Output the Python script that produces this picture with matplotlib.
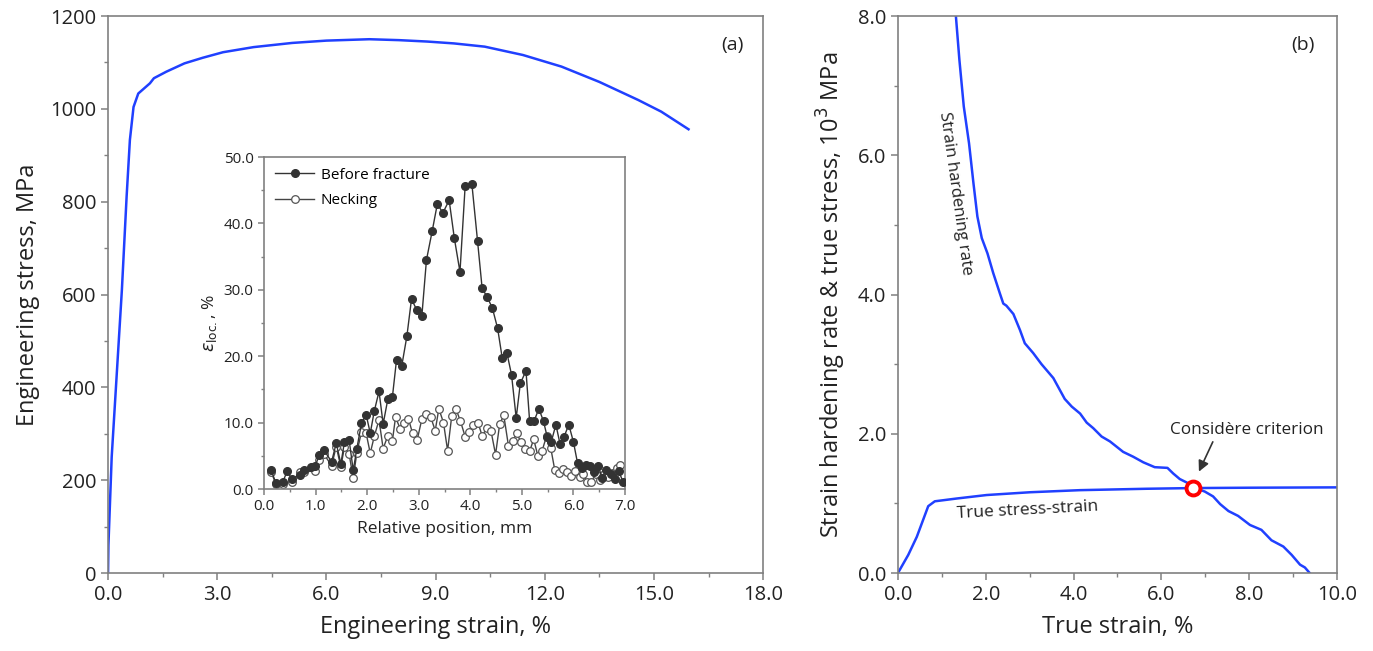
import numpy as np
import matplotlib.pyplot as plt
from matplotlib.ticker import MultipleLocator, FormatStrFormatter

plt.rcParams['font.family'] = ['Open Sans', 'DejaVu Sans']
plt.rcParams['mathtext.fontset'] = 'dejavusans'

# --- (a) engineering stress-strain ---
eng_strain = [0, 0.01, 0.1, 0.24, 0.38, 0.51, 0.6, 0.7, 0.83, 1.15, 1.26, 1.6, 2.1, 2.6,
              3.16, 4.0, 5.06, 6.0, 7.18, 8.0, 8.77, 9.5, 10.35, 11.4, 12.46, 13.5,
              14.57, 15.2, 15.95]
eng_stress = [0, 60, 250, 430, 610, 811, 933, 1004, 1033, 1055, 1066, 1080, 1098, 1110,
              1122, 1133, 1142, 1147, 1150, 1148, 1145, 1141, 1134, 1116, 1091, 1058,
              1019, 994, 956]

# --- inset: local strain distribution ---
bf_pos = [0.14, 0.23, 0.36, 0.45, 0.54, 0.69, 0.77, 0.92, 0.99, 1.07, 1.16, 1.31, 1.40,
          1.49, 1.56, 1.65, 1.73, 1.80, 1.89, 1.98, 2.06, 2.14, 2.23, 2.31, 2.40, 2.49,
          2.57, 2.67, 2.77, 2.86, 2.96, 3.06, 3.15, 3.26, 3.36, 3.47, 3.59, 3.69, 3.80,
          3.90, 4.03, 4.14, 4.23, 4.33, 4.43, 4.53, 4.62, 4.71, 4.80, 4.89, 4.97, 5.08,
          5.15, 5.24, 5.33, 5.42, 5.49, 5.57, 5.66, 5.74, 5.82, 5.91, 6.00, 6.08, 6.17,
          6.24, 6.32, 6.40, 6.48, 6.56, 6.64, 6.72, 6.80, 6.88, 6.96]
bf_val = [2.8, 0.9, 1.0, 2.7, 1.5, 2.1, 2.8, 3.3, 3.4, 5.1, 5.9, 4.1, 6.9,
          3.8, 7.1, 7.4, 2.8, 6.1, 9.9, 11.2, 8.4, 11.8, 14.7, 9.8, 13.5, 13.9,
          19.5, 18.5, 23.0, 28.6, 27.0, 26.0, 34.5, 38.8, 42.9, 41.6, 43.5, 37.8, 32.7,
          45.6, 46.0, 37.4, 30.2, 28.9, 27.2, 24.2, 19.7, 20.5, 17.2, 10.7, 15.9, 17.8,
          10.3, 10.3, 12.1, 10.2, 7.9, 7.1, 9.7, 6.8, 7.9, 9.7, 7.1, 3.9, 3.1,
          3.6, 3.4, 2.5, 3.4, 1.7, 2.9, 2.3, 1.5, 2.7, 1.1]
nk_pos = [0.14, 0.23, 0.36, 0.54, 0.69, 0.77, 0.99, 1.07, 1.16, 1.31, 1.40, 1.49, 1.56,
          1.65, 1.73, 1.80, 1.89, 1.98, 2.06, 2.14, 2.23, 2.31, 2.40, 2.49, 2.55, 2.64,
          2.71, 2.80, 2.88, 2.97, 3.06, 3.14, 3.23, 3.32, 3.39, 3.48, 3.56, 3.64, 3.72,
          3.81, 3.90, 3.98, 4.06, 4.15, 4.23, 4.32, 4.40, 4.49, 4.57, 4.65, 4.74, 4.82,
          4.90, 4.98, 5.06, 5.15, 5.23, 5.31, 5.39, 5.48, 5.56, 5.64, 5.72, 5.80, 5.88,
          5.95, 6.03, 6.12, 6.19, 6.27, 6.35, 6.43, 6.52, 6.59, 6.68, 6.75, 6.84, 6.90]
nk_val = [2.5, 0.8, 0.8, 1.1, 2.5, 2.6, 2.7, 4.3, 5.3, 3.5, 6.4, 3.3, 6.4,
          5.3, 1.6, 5.5, 8.6, 8.4, 5.4, 8.0, 10.4, 6.1, 8.0, 7.3, 10.8, 9.1,
          10.0, 10.6, 8.4, 7.4, 10.5, 11.3, 10.9, 8.8, 12.1, 10.0, 5.8, 11.0, 12.1,
          10.2, 7.9, 8.6, 9.7, 10.0, 8.0, 9.2, 8.8, 5.2, 9.8, 11.1, 6.5, 7.2,
          8.4, 7.1, 6.0, 5.7, 7.5, 5.0, 5.7, 8.0, 6.2, 2.8, 2.4, 3.0, 2.6,
          1.9, 2.7, 1.8, 2.2, 1.0, 1.1, 2.3, 1.4, 2.3, 1.8, 2.4, 3.1, 3.6]

# --- (b) true stress-strain and strain hardening rate (10^3 MPa) ---
true_strain = [0, 0.235, 0.43, 0.69, 0.84, 1.34, 2.02, 3.01, 4.15, 5.66, 6.73, 8.0, 10.0]
true_stress = [0, 0.26, 0.52, 0.96, 1.03, 1.07, 1.12, 1.16, 1.19, 1.21, 1.22, 1.225, 1.23]
shr_strain = [1.32, 1.40, 1.50, 1.62, 1.72, 1.81, 1.91, 2.04, 2.17, 2.32, 2.40, 2.47, 2.63,
              2.78, 2.89, 3.08, 3.27, 3.54, 3.80, 3.96, 4.15, 4.30, 4.45, 4.64, 4.83,
              5.13, 5.36, 5.59, 5.85, 6.14, 6.27, 6.42, 6.61, 6.77, 6.99, 7.18, 7.34,
              7.53, 7.75, 8.02, 8.28, 8.51, 8.78, 8.97, 9.16, 9.27, 9.38]
shr_rate = [8.0, 7.37, 6.70, 6.17, 5.60, 5.12, 4.81, 4.59, 4.31, 4.02, 3.87, 3.84, 3.72,
            3.49, 3.30, 3.16, 3.00, 2.80, 2.50, 2.39, 2.29, 2.16, 2.08, 1.96, 1.89,
            1.74, 1.67, 1.59, 1.52, 1.51, 1.43, 1.35, 1.29, 1.22, 1.17, 1.10, 0.99,
            0.89, 0.82, 0.69, 0.62, 0.47, 0.38, 0.26, 0.12, 0.08, 0.0]
consid_x, consid_y = 6.73, 1.22

blue = '#2040ff'
spine_c = '#808080'
txt_c = '#222222'


def style(ax, fs):
    for s in ax.spines.values():
        s.set_color(spine_c)
        s.set_linewidth(1.2)
    ax.tick_params(which='both', direction='out', colors=spine_c, labelcolor=txt_c,
                   labelsize=fs, top=False, right=False)
    ax.tick_params(which='major', length=5, width=1.1)
    ax.tick_params(which='minor', length=3, width=1.0)


fig = plt.figure(figsize=(13.73, 6.51), dpi=100)

# (a)
ax1 = fig.add_axes([0.0787, 0.1198, 0.4771, 0.8556])
ax1.plot(eng_strain, eng_stress, color=blue, lw=1.8)
ax1.set_xlim(0, 18)
ax1.set_ylim(0, 1200)
ax1.xaxis.set_major_locator(MultipleLocator(3))
ax1.xaxis.set_minor_locator(MultipleLocator(1.5))
ax1.xaxis.set_major_formatter(FormatStrFormatter('%.1f'))
ax1.yaxis.set_major_locator(MultipleLocator(200))
ax1.yaxis.set_minor_locator(MultipleLocator(100))
style(ax1, 14.5)
ax1.set_xlabel('Engineering strain, %', fontsize=17, color=txt_c, labelpad=7)
ax1.set_ylabel('Engineering stress, MPa', fontsize=17, color=txt_c, labelpad=7)
ax1.text(0.97, 0.965, '(a)', transform=ax1.transAxes, ha='right', va='top',
         fontsize=14, color=txt_c)

# inset
axi = fig.add_axes([0.1923, 0.2488, 0.2629, 0.51])
axi.plot(nk_pos, nk_val, color='#444444', lw=1.0, marker='o', ms=5.5,
         mfc='white', mec='#555555', mew=0.9, label='Necking', zorder=2)
axi.plot(bf_pos, bf_val, color='#333333', lw=1.0, marker='o', ms=5.5,
         mfc='#333333', mec='#333333', label='Before fracture', zorder=3)
axi.set_xlim(0, 7)
axi.set_ylim(0, 50)
axi.xaxis.set_major_locator(MultipleLocator(1))
axi.xaxis.set_minor_locator(MultipleLocator(0.5))
axi.xaxis.set_major_formatter(FormatStrFormatter('%.1f'))
axi.yaxis.set_major_locator(MultipleLocator(10))
axi.yaxis.set_minor_locator(MultipleLocator(5))
axi.yaxis.set_major_formatter(FormatStrFormatter('%.1f'))
style(axi, 11)
axi.tick_params(which='major', length=4)
axi.tick_params(which='minor', length=2.5)
axi.set_xlabel('Relative position, mm', fontsize=12.5, color=txt_c, labelpad=5)
axi.set_ylabel(r'$\varepsilon_{\mathrm{loc.}}$, %', fontsize=12.5, color=txt_c, labelpad=3)
h, l = axi.get_legend_handles_labels()
axi.legend(h[::-1], l[::-1], loc='upper left', frameon=False, fontsize=11,
           handlelength=2.6, borderaxespad=0.3, labelspacing=0.7, handletextpad=0.4)

# (b)
ax2 = fig.add_axes([0.654, 0.1198, 0.3197, 0.8556])
ax2.plot(true_strain, true_stress, color=blue, lw=1.8)
ax2.plot(shr_strain, shr_rate, color=blue, lw=1.8)
ax2.plot([consid_x], [consid_y], 'o', ms=10, mfc='white', mec='#ff0000', mew=2.8, zorder=5)
ax2.annotate('', xy=(6.83, 1.42), xytext=(7.2, 1.92),
             arrowprops=dict(arrowstyle='-|>', color='#333333', lw=1.2, mutation_scale=16))
ax2.text(7.94, 2.05, 'Considère criterion', ha='center', va='center', fontsize=12.3, color=txt_c)
ax2.text(2.96, 0.9, 'True stress-strain', ha='center', va='center', fontsize=12.5,
         color=txt_c, rotation=3)
ax2.text(1.31, 5.45, 'Strain hardening rate', ha='center', va='center', fontsize=12,
         color=txt_c, rotation=-82)
ax2.set_xlim(0, 10)
ax2.set_ylim(0, 8)
ax2.xaxis.set_major_locator(MultipleLocator(2))
ax2.xaxis.set_minor_locator(MultipleLocator(1))
ax2.xaxis.set_major_formatter(FormatStrFormatter('%.1f'))
ax2.yaxis.set_major_locator(MultipleLocator(2))
ax2.yaxis.set_minor_locator(MultipleLocator(1))
ax2.yaxis.set_major_formatter(FormatStrFormatter('%.1f'))
style(ax2, 14.5)
ax2.set_xlabel('True strain, %', fontsize=17, color=txt_c, labelpad=7)
ax2.set_ylabel(r'Strain hardening rate & true stress, 10$^3$ MPa', fontsize=17,
               color=txt_c, labelpad=7)
ax2.text(0.95, 0.965, '(b)', transform=ax2.transAxes, ha='right', va='top',
         fontsize=14, color=txt_c)

fig.savefig('out.png', dpi=100)
